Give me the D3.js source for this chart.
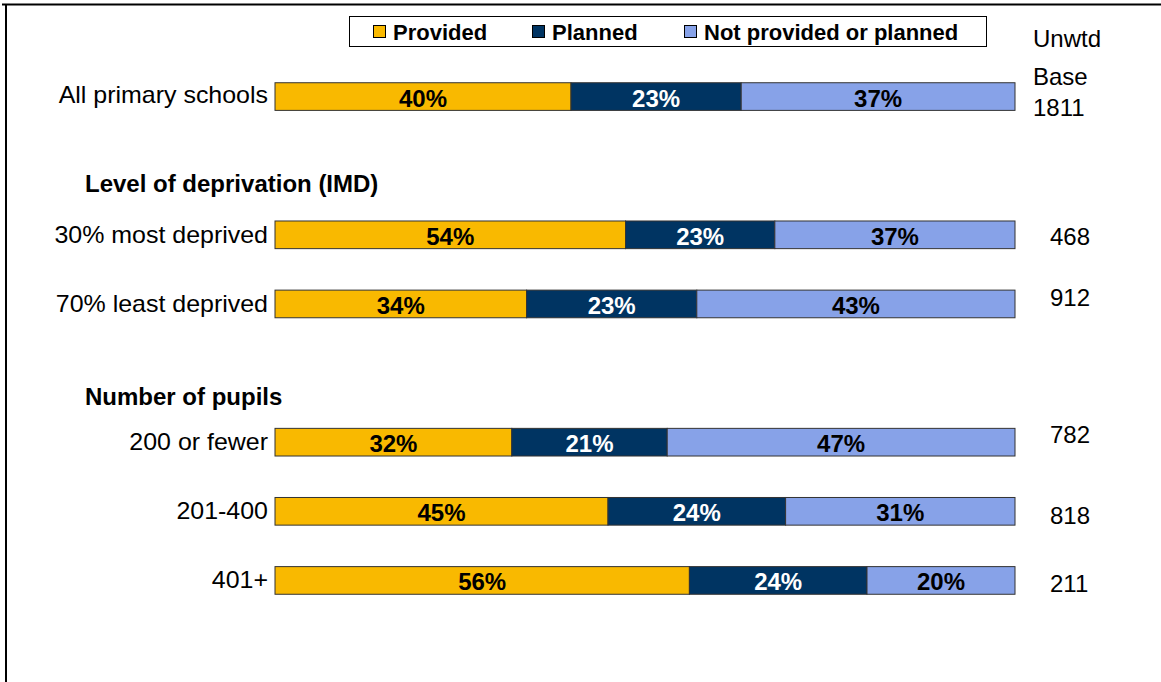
<!DOCTYPE html>
<html><head><meta charset="utf-8">
<script src="https://cdn.jsdelivr.net/npm/d3@7/dist/d3.min.js"></script>
<style>body{margin:0;background:#fff}svg{display:block;font-family:"Liberation Sans",Arial,sans-serif}</style>
</head><body>
<script>
const categories = ["All primary schools","","30% most deprived","70% least deprived","","200 or fewer","201-400","401+"];
const seriesNames = ["Provided","Planned","Not provided or planned"];
const provided = [40,null,54,34,null,32,45,56];
const planned = [23,null,23,23,null,21,24,24];
const notProvided = [37,null,37,43,null,47,31,20];
const bases = ["1811",null,"468","912",null,"782","818","211"];
const headers = [{before:"30% most deprived", text:"Level of deprivation (IMD)"},{before:"200 or fewer", text:"Number of pupils"}];
const baseTitle = ["Unwtd","Base"];

const W=1161,H=682;
const colors=["#F9B900","#003462","#87A2E8"];
const textColors=["#000","#fff","#000"];
const svg=d3.select("body").append("svg").attr("width",W).attr("height",H);

// frame
svg.append("line").attr("x1",2).attr("x2",W).attr("y1",4.5).attr("y2",4.5).attr("stroke","#000").attr("stroke-width",2);
svg.append("line").attr("x1",6).attr("x2",6).attr("y1",4).attr("y2",H).attr("stroke","#000").attr("stroke-width",2);

const rows=categories.map((c,i)=>({key:c||("blank"+i),label:c,Provided:provided[i],Planned:planned[i],"Not provided or planned":notProvided[i],base:bases[i]}));
const dataRows=rows.filter(r=>r.Provided!=null);

const y=d3.scaleBand().domain(rows.map(r=>r.key)).range([62,615]).paddingInner(0.6).paddingOuter(0.3);
const x=d3.scaleLinear().domain([0,1]).range([275,1015]);

const stack=d3.stack().keys(seriesNames).offset(d3.stackOffsetExpand);
const stacked=stack(dataRows);

const g=svg.append("g");
stacked.forEach((s,si)=>{
  g.selectAll(null).data(s).enter().append("rect")
   .attr("x",d=>x(d[0])).attr("y",d=>y(d.data.key))
   .attr("width",d=>x(d[1])-x(d[0])).attr("height",y.bandwidth())
   .attr("fill",colors[si]).attr("stroke","#333").attr("stroke-width",1);
  g.selectAll(null).data(s).enter().append("text")
   .attr("x",d=>(x(d[0])+x(d[1]))/2).attr("y",d=>y(d.data.key)+y.bandwidth()/2+10)
   .attr("text-anchor","middle").attr("font-size",24).attr("font-weight","bold")
   .attr("fill",textColors[si]).text(d=>d.data[seriesNames[si]]+"%");
});

// category labels
svg.selectAll(null).data(dataRows).enter().append("text")
  .attr("x",268).attr("y",(d,i)=>y(d.key)+y.bandwidth()/2+(i===0?6:8))
  .attr("text-anchor","end").attr("font-size",24).attr("fill","#000")
  .attr("transform-origin","268 0").attr("transform","scale(1.04,1)")
  .text(d=>d.label);

// headers
headers.forEach((h,i)=>{
  svg.append("text").attr("x",85).attr("y",y(h.before)+y.bandwidth()/2-[43,37][i])
   .attr("font-size",24).attr("font-weight","bold").text(h.text);
});

// base column
const nudges={"30% most deprived":2,"70% least deprived":-6,"200 or fewer":-8,"201-400":4,"401+":3};
svg.selectAll(null).data(dataRows.slice(1)).enter().append("text")
  .attr("x",1050).attr("y",d=>y(d.key)+y.bandwidth()/2+8.5+nudges[d.key])
  .attr("font-size",24).text(d=>d.base);
svg.append("text").attr("x",1033).attr("y",47).attr("font-size",24).text(baseTitle[0]);
svg.append("text").attr("x",1033).attr("y",85).attr("font-size",24).text(baseTitle[1]);
svg.append("text").attr("x",1033).attr("y",116).attr("font-size",24).text(dataRows[0].base);

// legend
const lg=svg.append("g");
lg.append("rect").attr("x",349.5).attr("y",16.5).attr("width",637).attr("height",30).attr("fill","#fff").attr("stroke","#000");
const lx=[373,532,684];
seriesNames.forEach((n,i)=>{
  lg.append("rect").attr("x",lx[i]+0.5).attr("y",25.5).attr("width",12).attr("height",12).attr("fill",colors[i]).attr("stroke","#000");
  lg.append("text").attr("x",lx[i]+20).attr("y",40).attr("font-size",22).attr("font-weight","bold").text(n);
});
</script>
</body></html>
